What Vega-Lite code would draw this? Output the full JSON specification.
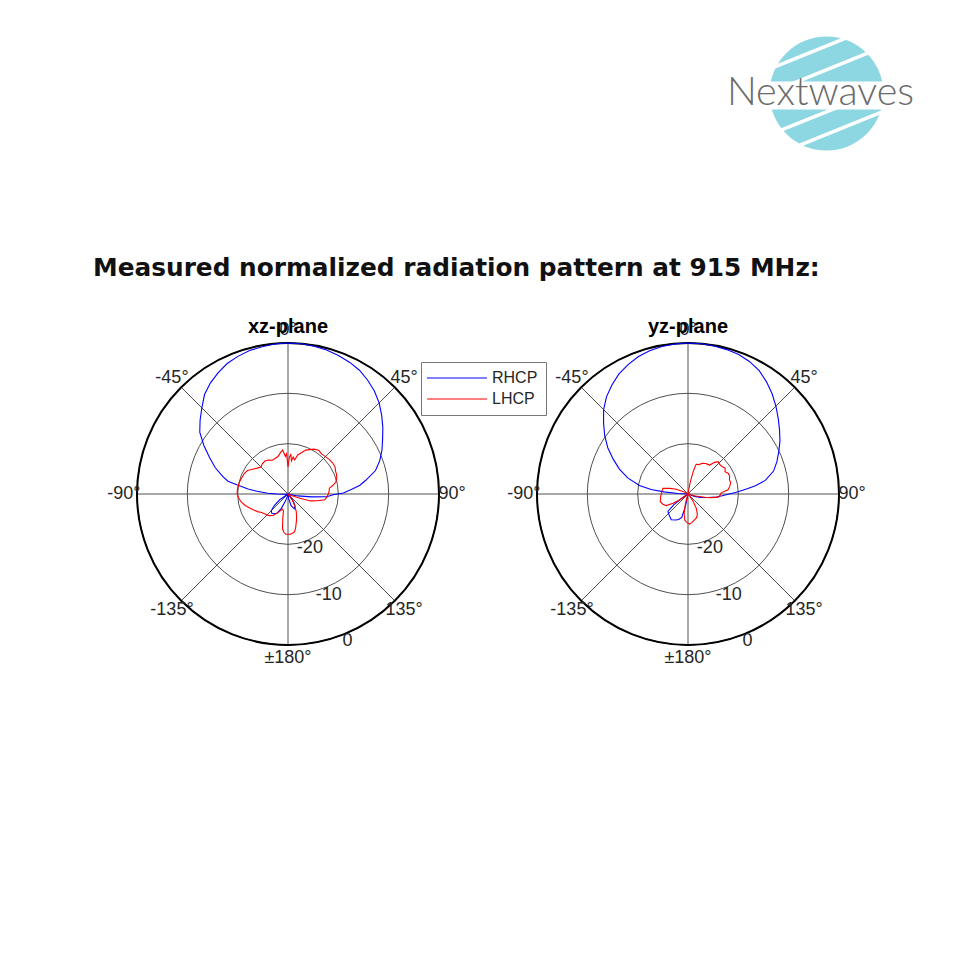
{
  "$schema": "https://vega.github.io/schema/vega-lite/v6.json",
  "background": "white",
  "padding": {"left": 88, "top": 30, "right": 0, "bottom": 0},
  "config": {"view": {"stroke": null}, "font": "Liberation Sans"},
  "datasets": {
    "logo": [{"cx": 0, "cy": 0}],
    "gaps": [
      {"x": -0.940, "y": 0.452, "x2": 0.361, "y2": 0.979},
      {"x": -1.055, "y": -0.011, "x2": 0.766, "y2": 0.726},
      {"x": -0.831, "y": -0.658, "x2": 1.055, "y2": 0.105},
      {"x": -0.498, "y": -0.921, "x2": 0.998, "y2": -0.315}
    ],
    "strip": [{"x": -1.2, "y": -0.035, "x2": 1.2, "y2": -0.035}],
    "brand": [{"brand": "Nextwaves", "x": -0.105, "y": -0.202}],
    "spokes": [{"angle": 0}, {"angle": 45}, {"angle": 90}, {"angle": 135}],
    "alabels": [
      {"angle": 0, "label": "0°"}, {"angle": 45, "label": "45°"}, {"angle": 90, "label": "90°"},
      {"angle": 135, "label": "135°"}, {"angle": 180, "label": "±180°"}, {"angle": -135, "label": "-135°"},
      {"angle": -90, "label": "-90°"}, {"angle": -45, "label": "-45°"}
    ],
    "rticks": [{"db": -20, "label": "-20"}, {"db": -10, "label": "-10"}, {"db": 0, "label": "0"}],
    "curves": [
      {"plane":"xz","pol":"RHCP","angle":-180,"db":-30},{"plane":"xz","pol":"RHCP","angle":-172,"db":-30},{"plane":"xz","pol":"RHCP","angle":-165,"db":-29.5},{"plane":"xz","pol":"RHCP","angle":-160,"db":-28.5},{"plane":"xz","pol":"RHCP","angle":-155,"db":-26.8},{"plane":"xz","pol":"RHCP","angle":-150,"db":-25.6},{"plane":"xz","pol":"RHCP","angle":-145,"db":-25.2},{"plane":"xz","pol":"RHCP","angle":-140,"db":-25.0},{"plane":"xz","pol":"RHCP","angle":-135,"db":-25.3},{"plane":"xz","pol":"RHCP","angle":-130,"db":-26.5},{"plane":"xz","pol":"RHCP","angle":-125,"db":-28},{"plane":"xz","pol":"RHCP","angle":-120,"db":-30},{"plane":"xz","pol":"RHCP","angle":-100,"db":-30},{"plane":"xz","pol":"RHCP","angle":-95,"db":-29.5},{"plane":"xz","pol":"RHCP","angle":-92,"db":-28.8},{"plane":"xz","pol":"RHCP","angle":-90,"db":-27.8},{"plane":"xz","pol":"RHCP","angle":-88,"db":-26},{"plane":"xz","pol":"RHCP","angle":-85,"db":-23.8},{"plane":"xz","pol":"RHCP","angle":-83,"db":-22},{"plane":"xz","pol":"RHCP","angle":-80,"db":-19.8},{"plane":"xz","pol":"RHCP","angle":-78,"db":-17.8},{"plane":"xz","pol":"RHCP","angle":-75,"db":-16.6},{"plane":"xz","pol":"RHCP","angle":-70,"db":-14.6},{"plane":"xz","pol":"RHCP","angle":-65,"db":-12.8},{"plane":"xz","pol":"RHCP","angle":-60,"db":-10.7},{"plane":"xz","pol":"RHCP","angle":-55,"db":-8.6},{"plane":"xz","pol":"RHCP","angle":-50,"db":-7.2},{"plane":"xz","pol":"RHCP","angle":-45,"db":-5.8},{"plane":"xz","pol":"RHCP","angle":-40,"db":-4.2},{"plane":"xz","pol":"RHCP","angle":-35,"db":-3.1},{"plane":"xz","pol":"RHCP","angle":-30,"db":-2.2},{"plane":"xz","pol":"RHCP","angle":-25,"db":-1.4},{"plane":"xz","pol":"RHCP","angle":-20,"db":-0.9},{"plane":"xz","pol":"RHCP","angle":-15,"db":-0.5},{"plane":"xz","pol":"RHCP","angle":-10,"db":-0.3},{"plane":"xz","pol":"RHCP","angle":-5,"db":-0.1},{"plane":"xz","pol":"RHCP","angle":0,"db":0},{"plane":"xz","pol":"RHCP","angle":5,"db":-0.05},{"plane":"xz","pol":"RHCP","angle":10,"db":-0.2},{"plane":"xz","pol":"RHCP","angle":15,"db":-0.4},{"plane":"xz","pol":"RHCP","angle":20,"db":-0.7},{"plane":"xz","pol":"RHCP","angle":25,"db":-1.1},{"plane":"xz","pol":"RHCP","angle":30,"db":-1.6},{"plane":"xz","pol":"RHCP","angle":35,"db":-2.4},{"plane":"xz","pol":"RHCP","angle":40,"db":-3.3},{"plane":"xz","pol":"RHCP","angle":45,"db":-4.4},{"plane":"xz","pol":"RHCP","angle":50,"db":-5.7},{"plane":"xz","pol":"RHCP","angle":55,"db":-7.0},{"plane":"xz","pol":"RHCP","angle":60,"db":-8.3},{"plane":"xz","pol":"RHCP","angle":65,"db":-9.4},{"plane":"xz","pol":"RHCP","angle":70,"db":-10.6},{"plane":"xz","pol":"RHCP","angle":75,"db":-12.0},{"plane":"xz","pol":"RHCP","angle":80,"db":-14.3},{"plane":"xz","pol":"RHCP","angle":83,"db":-15.6},{"plane":"xz","pol":"RHCP","angle":86,"db":-17.4},{"plane":"xz","pol":"RHCP","angle":89,"db":-19.0},{"plane":"xz","pol":"RHCP","angle":91,"db":-21.0},{"plane":"xz","pol":"RHCP","angle":94,"db":-22.3},{"plane":"xz","pol":"RHCP","angle":97,"db":-25.3},{"plane":"xz","pol":"RHCP","angle":101,"db":-28},{"plane":"xz","pol":"RHCP","angle":105,"db":-29.5},{"plane":"xz","pol":"RHCP","angle":110,"db":-30},{"plane":"xz","pol":"RHCP","angle":135,"db":-30},{"plane":"xz","pol":"RHCP","angle":140,"db":-29},{"plane":"xz","pol":"RHCP","angle":145,"db":-28},{"plane":"xz","pol":"RHCP","angle":150,"db":-27.2},{"plane":"xz","pol":"RHCP","angle":157,"db":-26.8},{"plane":"xz","pol":"RHCP","angle":165,"db":-27.6},{"plane":"xz","pol":"RHCP","angle":172,"db":-29},{"plane":"xz","pol":"RHCP","angle":180,"db":-30},
      {"plane":"xz","pol":"LHCP","angle":-180,"db":-22.0},{"plane":"xz","pol":"LHCP","angle":-177,"db":-22.0},{"plane":"xz","pol":"LHCP","angle":-174,"db":-22.3},{"plane":"xz","pol":"LHCP","angle":-171,"db":-23.0},{"plane":"xz","pol":"LHCP","angle":-168,"db":-25.0},{"plane":"xz","pol":"LHCP","angle":-165,"db":-26.5},{"plane":"xz","pol":"LHCP","angle":-160,"db":-26.8},{"plane":"xz","pol":"LHCP","angle":-155,"db":-26.3},{"plane":"xz","pol":"LHCP","angle":-150,"db":-25.6},{"plane":"xz","pol":"LHCP","angle":-145,"db":-24.8},{"plane":"xz","pol":"LHCP","angle":-140,"db":-24.4},{"plane":"xz","pol":"LHCP","angle":-135,"db":-24.1},{"plane":"xz","pol":"LHCP","angle":-130,"db":-23.9},{"plane":"xz","pol":"LHCP","angle":-125,"db":-23.6},{"plane":"xz","pol":"LHCP","angle":-120,"db":-23.0},{"plane":"xz","pol":"LHCP","angle":-115,"db":-22.5},{"plane":"xz","pol":"LHCP","angle":-110,"db":-21.9},{"plane":"xz","pol":"LHCP","angle":-105,"db":-21.2},{"plane":"xz","pol":"LHCP","angle":-100,"db":-20.6},{"plane":"xz","pol":"LHCP","angle":-95,"db":-20.2},{"plane":"xz","pol":"LHCP","angle":-90,"db":-19.9},{"plane":"xz","pol":"LHCP","angle":-85,"db":-19.9},{"plane":"xz","pol":"LHCP","angle":-80,"db":-20.0},{"plane":"xz","pol":"LHCP","angle":-75,"db":-20.1},{"plane":"xz","pol":"LHCP","angle":-70,"db":-20.3},{"plane":"xz","pol":"LHCP","angle":-65,"db":-20.4},{"plane":"xz","pol":"LHCP","angle":-60,"db":-20.7},{"plane":"xz","pol":"LHCP","angle":-55,"db":-21.4},{"plane":"xz","pol":"LHCP","angle":-50,"db":-22.0},{"plane":"xz","pol":"LHCP","angle":-45,"db":-22.4},{"plane":"xz","pol":"LHCP","angle":-40,"db":-22.1},{"plane":"xz","pol":"LHCP","angle":-35,"db":-22.0},{"plane":"xz","pol":"LHCP","angle":-30,"db":-22.2},{"plane":"xz","pol":"LHCP","angle":-25,"db":-22.6},{"plane":"xz","pol":"LHCP","angle":-20,"db":-22.5},{"plane":"xz","pol":"LHCP","angle":-15,"db":-22.3},{"plane":"xz","pol":"LHCP","angle":-10,"db":-21.6},{"plane":"xz","pol":"LHCP","angle":-7,"db":-21.2},{"plane":"xz","pol":"LHCP","angle":-4,"db":-22.5},{"plane":"xz","pol":"LHCP","angle":-2,"db":-22.0},{"plane":"xz","pol":"LHCP","angle":0,"db":-24.6},{"plane":"xz","pol":"LHCP","angle":2,"db":-22.8},{"plane":"xz","pol":"LHCP","angle":4,"db":-22.0},{"plane":"xz","pol":"LHCP","angle":6,"db":-23.4},{"plane":"xz","pol":"LHCP","angle":8,"db":-22.6},{"plane":"xz","pol":"LHCP","angle":11,"db":-23.1},{"plane":"xz","pol":"LHCP","angle":14,"db":-22.0},{"plane":"xz","pol":"LHCP","angle":18,"db":-21.4},{"plane":"xz","pol":"LHCP","angle":22,"db":-20.6},{"plane":"xz","pol":"LHCP","angle":26,"db":-20.2},{"plane":"xz","pol":"LHCP","angle":30,"db":-19.7},{"plane":"xz","pol":"LHCP","angle":35,"db":-19.4},{"plane":"xz","pol":"LHCP","angle":40,"db":-19.6},{"plane":"xz","pol":"LHCP","angle":45,"db":-19.5},{"plane":"xz","pol":"LHCP","angle":50,"db":-19.3},{"plane":"xz","pol":"LHCP","angle":55,"db":-19.2},{"plane":"xz","pol":"LHCP","angle":60,"db":-19.2},{"plane":"xz","pol":"LHCP","angle":64,"db":-19.5},{"plane":"xz","pol":"LHCP","angle":68,"db":-19.6},{"plane":"xz","pol":"LHCP","angle":72,"db":-19.8},{"plane":"xz","pol":"LHCP","angle":76,"db":-20.2},{"plane":"xz","pol":"LHCP","angle":79,"db":-20.9},{"plane":"xz","pol":"LHCP","angle":82,"db":-21.7},{"plane":"xz","pol":"LHCP","angle":86,"db":-21.8},{"plane":"xz","pol":"LHCP","angle":90,"db":-22.0},{"plane":"xz","pol":"LHCP","angle":95,"db":-22.3},{"plane":"xz","pol":"LHCP","angle":99,"db":-22.6},{"plane":"xz","pol":"LHCP","angle":103,"db":-24.0},{"plane":"xz","pol":"LHCP","angle":107,"db":-25.3},{"plane":"xz","pol":"LHCP","angle":110,"db":-27.5},{"plane":"xz","pol":"LHCP","angle":115,"db":-29.3},{"plane":"xz","pol":"LHCP","angle":120,"db":-30},{"plane":"xz","pol":"LHCP","angle":135,"db":-30},{"plane":"xz","pol":"LHCP","angle":145,"db":-28.5},{"plane":"xz","pol":"LHCP","angle":150,"db":-27.3},{"plane":"xz","pol":"LHCP","angle":155,"db":-26.1},{"plane":"xz","pol":"LHCP","angle":160,"db":-25.0},{"plane":"xz","pol":"LHCP","angle":163,"db":-24.3},{"plane":"xz","pol":"LHCP","angle":167,"db":-23.2},{"plane":"xz","pol":"LHCP","angle":170,"db":-22.4},{"plane":"xz","pol":"LHCP","angle":174,"db":-22.1},{"plane":"xz","pol":"LHCP","angle":177,"db":-22.0},{"plane":"xz","pol":"LHCP","angle":180,"db":-22.0},
      {"plane":"yz","pol":"RHCP","angle":-180,"db":-30},{"plane":"yz","pol":"RHCP","angle":-172,"db":-30},{"plane":"yz","pol":"RHCP","angle":-168,"db":-27.4},{"plane":"yz","pol":"RHCP","angle":-165,"db":-25.2},{"plane":"yz","pol":"RHCP","angle":-160,"db":-24.6},{"plane":"yz","pol":"RHCP","angle":-155,"db":-24.3},{"plane":"yz","pol":"RHCP","angle":-147,"db":-23.9},{"plane":"yz","pol":"RHCP","angle":-140,"db":-24.3},{"plane":"yz","pol":"RHCP","angle":-131,"db":-24.7},{"plane":"yz","pol":"RHCP","angle":-127,"db":-26.5},{"plane":"yz","pol":"RHCP","angle":-124,"db":-28.5},{"plane":"yz","pol":"RHCP","angle":-120,"db":-30},{"plane":"yz","pol":"RHCP","angle":-90,"db":-30},{"plane":"yz","pol":"RHCP","angle":-87,"db":-28},{"plane":"yz","pol":"RHCP","angle":-85,"db":-25.2},{"plane":"yz","pol":"RHCP","angle":-83,"db":-22.6},{"plane":"yz","pol":"RHCP","angle":-80,"db":-20.2},{"plane":"yz","pol":"RHCP","angle":-75,"db":-17.6},{"plane":"yz","pol":"RHCP","angle":-70,"db":-15.5},{"plane":"yz","pol":"RHCP","angle":-65,"db":-13.6},{"plane":"yz","pol":"RHCP","angle":-60,"db":-11.6},{"plane":"yz","pol":"RHCP","angle":-55,"db":-9.8},{"plane":"yz","pol":"RHCP","angle":-50,"db":-8.1},{"plane":"yz","pol":"RHCP","angle":-45,"db":-6.3},{"plane":"yz","pol":"RHCP","angle":-40,"db":-4.8},{"plane":"yz","pol":"RHCP","angle":-35,"db":-3.6},{"plane":"yz","pol":"RHCP","angle":-30,"db":-2.5},{"plane":"yz","pol":"RHCP","angle":-25,"db":-1.7},{"plane":"yz","pol":"RHCP","angle":-20,"db":-1.0},{"plane":"yz","pol":"RHCP","angle":-15,"db":-0.55},{"plane":"yz","pol":"RHCP","angle":-10,"db":-0.25},{"plane":"yz","pol":"RHCP","angle":-5,"db":-0.07},{"plane":"yz","pol":"RHCP","angle":0,"db":0},{"plane":"yz","pol":"RHCP","angle":5,"db":-0.05},{"plane":"yz","pol":"RHCP","angle":10,"db":-0.15},{"plane":"yz","pol":"RHCP","angle":15,"db":-0.3},{"plane":"yz","pol":"RHCP","angle":20,"db":-0.5},{"plane":"yz","pol":"RHCP","angle":25,"db":-1.0},{"plane":"yz","pol":"RHCP","angle":30,"db":-1.7},{"plane":"yz","pol":"RHCP","angle":35,"db":-2.8},{"plane":"yz","pol":"RHCP","angle":40,"db":-4.0},{"plane":"yz","pol":"RHCP","angle":45,"db":-5.3},{"plane":"yz","pol":"RHCP","angle":50,"db":-6.6},{"plane":"yz","pol":"RHCP","angle":55,"db":-7.8},{"plane":"yz","pol":"RHCP","angle":60,"db":-8.9},{"plane":"yz","pol":"RHCP","angle":65,"db":-10.1},{"plane":"yz","pol":"RHCP","angle":70,"db":-11.2},{"plane":"yz","pol":"RHCP","angle":75,"db":-12.4},{"plane":"yz","pol":"RHCP","angle":80,"db":-14.4},{"plane":"yz","pol":"RHCP","angle":83,"db":-16.5},{"plane":"yz","pol":"RHCP","angle":85,"db":-18.2},{"plane":"yz","pol":"RHCP","angle":88,"db":-20.4},{"plane":"yz","pol":"RHCP","angle":90,"db":-21.8},{"plane":"yz","pol":"RHCP","angle":93,"db":-23.2},{"plane":"yz","pol":"RHCP","angle":96,"db":-24.3},{"plane":"yz","pol":"RHCP","angle":100,"db":-26.0},{"plane":"yz","pol":"RHCP","angle":105,"db":-27.4},{"plane":"yz","pol":"RHCP","angle":110,"db":-28.6},{"plane":"yz","pol":"RHCP","angle":115,"db":-30},{"plane":"yz","pol":"RHCP","angle":180,"db":-30},
      {"plane":"yz","pol":"LHCP","angle":-180,"db":-24.2},{"plane":"yz","pol":"LHCP","angle":-176,"db":-24.5},{"plane":"yz","pol":"LHCP","angle":-173,"db":-24.8},{"plane":"yz","pol":"LHCP","angle":-169,"db":-26.0},{"plane":"yz","pol":"LHCP","angle":-165,"db":-28.0},{"plane":"yz","pol":"LHCP","angle":-160,"db":-30},{"plane":"yz","pol":"LHCP","angle":-130,"db":-30},{"plane":"yz","pol":"LHCP","angle":-125,"db":-28},{"plane":"yz","pol":"LHCP","angle":-122,"db":-26.5},{"plane":"yz","pol":"LHCP","angle":-118,"db":-25.1},{"plane":"yz","pol":"LHCP","angle":-112,"db":-24.6},{"plane":"yz","pol":"LHCP","angle":-105,"db":-24.3},{"plane":"yz","pol":"LHCP","angle":-97,"db":-24.5},{"plane":"yz","pol":"LHCP","angle":-89,"db":-24.7},{"plane":"yz","pol":"LHCP","angle":-83,"db":-24.8},{"plane":"yz","pol":"LHCP","angle":-77,"db":-24.9},{"plane":"yz","pol":"LHCP","angle":-73,"db":-26.2},{"plane":"yz","pol":"LHCP","angle":-68,"db":-27.5},{"plane":"yz","pol":"LHCP","angle":-62,"db":-29},{"plane":"yz","pol":"LHCP","angle":-55,"db":-30},{"plane":"yz","pol":"LHCP","angle":0,"db":-30},{"plane":"yz","pol":"LHCP","angle":8,"db":-29.5},{"plane":"yz","pol":"LHCP","angle":11,"db":-27.5},{"plane":"yz","pol":"LHCP","angle":13,"db":-25.5},{"plane":"yz","pol":"LHCP","angle":15,"db":-24.0},{"plane":"yz","pol":"LHCP","angle":17,"db":-23.8},{"plane":"yz","pol":"LHCP","angle":20,"db":-23.8},{"plane":"yz","pol":"LHCP","angle":23,"db":-23.5},{"plane":"yz","pol":"LHCP","angle":26,"db":-23.2},{"plane":"yz","pol":"LHCP","angle":30,"db":-23.0},{"plane":"yz","pol":"LHCP","angle":34,"db":-22.9},{"plane":"yz","pol":"LHCP","angle":37,"db":-22.8},{"plane":"yz","pol":"LHCP","angle":40,"db":-21.8},{"plane":"yz","pol":"LHCP","angle":43,"db":-21.2},{"plane":"yz","pol":"LHCP","angle":47,"db":-21.4},{"plane":"yz","pol":"LHCP","angle":51,"db":-21.3},{"plane":"yz","pol":"LHCP","angle":55,"db":-21.0},{"plane":"yz","pol":"LHCP","angle":59,"db":-21.4},{"plane":"yz","pol":"LHCP","angle":63,"db":-21.0},{"plane":"yz","pol":"LHCP","angle":67,"db":-21.0},{"plane":"yz","pol":"LHCP","angle":71,"db":-21.3},{"plane":"yz","pol":"LHCP","angle":75,"db":-21.2},{"plane":"yz","pol":"LHCP","angle":80,"db":-21.6},{"plane":"yz","pol":"LHCP","angle":84,"db":-22.0},{"plane":"yz","pol":"LHCP","angle":88,"db":-23.4},{"plane":"yz","pol":"LHCP","angle":92,"db":-23.6},{"plane":"yz","pol":"LHCP","angle":96,"db":-24.0},{"plane":"yz","pol":"LHCP","angle":99,"db":-25.4},{"plane":"yz","pol":"LHCP","angle":101,"db":-26.6},{"plane":"yz","pol":"LHCP","angle":105,"db":-28.5},{"plane":"yz","pol":"LHCP","angle":110,"db":-30},{"plane":"yz","pol":"LHCP","angle":140,"db":-29.5},{"plane":"yz","pol":"LHCP","angle":145,"db":-28.2},{"plane":"yz","pol":"LHCP","angle":150,"db":-26.7},{"plane":"yz","pol":"LHCP","angle":155,"db":-25.6},{"plane":"yz","pol":"LHCP","angle":160,"db":-25.0},{"plane":"yz","pol":"LHCP","angle":166,"db":-24.7},{"plane":"yz","pol":"LHCP","angle":172,"db":-24.3},{"plane":"yz","pol":"LHCP","angle":177,"db":-24.0},{"plane":"yz","pol":"LHCP","angle":180,"db":-24.2}
    ]
  },
  "spacing": 0,
  "bounds": "flush",
  "vconcat": [
    {
      "width": 800,
      "height": 264,
      "title": {"text": "Measured normalized radiation pattern at 915 MHz:", "orient": "bottom", "anchor": "start", "frame": "group", "baseline": "alphabetic", "offset": 0, "dy": -18, "dx": 5, "font": "DejaVu Sans", "fontSize": 24.8, "fontWeight": "bold", "color": "#111111"},
      "layer": [
        {
          "data": {"name": "logo"},
          "mark": {"type": "arc", "radius": 57, "theta": 0, "theta2": 6.2832, "color": "#8dd7e2", "stroke": null},
          "encoding": {
            "x": {"field": "cx", "type": "quantitative", "scale": {"domain": [-12.956, 1.079], "nice": false, "zero": false}, "axis": null},
            "y": {"field": "cy", "type": "quantitative", "scale": {"domain": [-3.518, 1.114], "nice": false, "zero": false}, "axis": null}
          }
        },
        {
          "data": {"name": "gaps"},
          "mark": {"type": "rule", "strokeWidth": 3.5, "color": "#ffffff", "strokeCap": "butt"},
          "encoding": {
            "x": {"field": "x", "type": "quantitative", "scale": {"domain": [-12.956, 1.079], "nice": false, "zero": false}, "axis": null},
            "y": {"field": "y", "type": "quantitative", "scale": {"domain": [-3.518, 1.114], "nice": false, "zero": false}, "axis": null},
            "x2": {"field": "x2"},
            "y2": {"field": "y2"}
          }
        },
        {
          "data": {"name": "strip"},
          "mark": {"type": "rule", "strokeWidth": 28, "color": "#ffffff", "strokeCap": "butt"},
          "encoding": {
            "x": {"field": "x", "type": "quantitative", "scale": {"domain": [-12.956, 1.079], "nice": false, "zero": false}, "axis": null},
            "y": {"field": "y", "type": "quantitative", "scale": {"domain": [-3.518, 1.114], "nice": false, "zero": false}, "axis": null},
            "x2": {"field": "x2"},
            "y2": {"field": "y2"}
          }
        },
        {
          "data": {"name": "brand"},
          "mark": {"type": "text", "font": "Lato", "fontWeight": 300, "fontSize": 39.5, "color": "#6b6b6b", "align": "center", "baseline": "alphabetic"},
          "encoding": {
            "x": {"field": "x", "type": "quantitative", "scale": {"domain": [-12.956, 1.079], "nice": false, "zero": false}, "axis": null},
            "y": {"field": "y", "type": "quantitative", "scale": {"domain": [-3.518, 1.114], "nice": false, "zero": false}, "axis": null},
            "text": {"field": "brand"}
          }
        }
      ]
    },
    {
      "spacing": 0,
      "bounds": "flush",
      "hconcat": [
        {
          "width": 400,
          "height": 400,
          "title": {"text": "xz-plane", "frame": "group", "anchor": "middle", "baseline": "alphabetic", "offset": 0, "dy": 59, "font": "Liberation Sans", "fontSize": 20, "fontWeight": "bold", "color": "#000000"},
          "layer": [
            {
              "data": {"name": "spokes"},
              "transform": [
                {"calculate": "30*sin(datum.angle*PI/180)", "as": "sx"},
                {"calculate": "30*cos(datum.angle*PI/180)", "as": "sy"},
                {"calculate": "-datum.sx", "as": "ex"},
                {"calculate": "-datum.sy", "as": "ey"}
              ],
              "mark": {"type": "rule", "color": "#505050", "strokeWidth": 1},
              "encoding": {
                "x": {"field": "sx", "type": "quantitative", "scale": {"domain": [-39.735, 39.735], "nice": false, "zero": false}, "axis": null},
                "y": {"field": "sy", "type": "quantitative", "scale": {"domain": [-39.735, 39.735], "nice": false, "zero": false}, "axis": null},
                "x2": {"field": "ex"},
                "y2": {"field": "ey"}
              }
            },
            {
              "data": {"name": "rticks"},
              "transform": [{"filter": "datum.db < 0"}],
              "mark": {"type": "arc", "filled": false, "color": "#505050", "strokeWidth": 1, "theta": 0, "theta2": 6.2832},
              "encoding": {
                "radius": {"field": "db", "type": "quantitative", "stack": null, "scale": {"type": "linear", "domain": [-30, 0], "range": [0, 151], "zero": false, "nice": false}, "legend": null}
              }
            },
            {
              "data": {"name": "rticks"},
              "transform": [{"filter": "datum.db == 0"}],
              "mark": {"type": "arc", "filled": false, "color": "#000000", "strokeWidth": 2, "theta": 0, "theta2": 6.2832},
              "encoding": {
                "radius": {"field": "db", "type": "quantitative", "stack": null, "scale": {"type": "linear", "domain": [-30, 0], "range": [0, 151], "zero": false, "nice": false}, "legend": null}
              }
            },
            {
              "data": {"name": "curves"},
              "transform": [
                {"filter": "datum.plane === 'xz'"},
                {"calculate": "max(datum.db + 30, 0)", "as": "r"},
                {"calculate": "datum.r*sin(datum.angle*PI/180)", "as": "cx"},
                {"calculate": "datum.r*cos(datum.angle*PI/180)", "as": "cy"}
              ],
              "mark": {"type": "line", "strokeWidth": 1.1},
              "encoding": {
                "x": {"field": "cx", "type": "quantitative", "scale": {"domain": [-39.735, 39.735], "nice": false, "zero": false}, "axis": null},
                "y": {"field": "cy", "type": "quantitative", "scale": {"domain": [-39.735, 39.735], "nice": false, "zero": false}, "axis": null},
                "order": {"field": "angle", "type": "quantitative"},
                "color": {"field": "pol", "type": "nominal", "scale": {"domain": ["RHCP", "LHCP"], "range": ["#0000ff", "#ff0000"]},
                  "legend": {"title": null, "orient": "none", "legendX": 333, "legendY": 332, "symbolType": "M-2,0H10", "symbolSize": 100, "symbolStrokeWidth": 1, "labelOffset": 47, "padding": 8, "rowPadding": 5, "labelFontSize": 16, "labelFont": "Liberation Sans", "labelColor": "#262626", "strokeColor": "#777777", "fillColor": "#ffffff"}}
              }
            },
            {
              "data": {"name": "alabels"},
              "transform": [
                {"calculate": "32.6*sin(datum.angle*PI/180)", "as": "lx"},
                {"calculate": "32.6*cos(datum.angle*PI/180)", "as": "ly"}
              ],
              "mark": {"type": "text", "font": "Liberation Sans", "fontSize": 18, "color": "#262626", "align": "center", "baseline": "middle"},
              "encoding": {
                "x": {"field": "lx", "type": "quantitative", "scale": {"domain": [-39.735, 39.735], "nice": false, "zero": false}, "axis": null},
                "y": {"field": "ly", "type": "quantitative", "scale": {"domain": [-39.735, 39.735], "nice": false, "zero": false}, "axis": null},
                "text": {"field": "label"}
              }
            },
            {
              "data": {"name": "rticks"},
              "transform": [
                {"calculate": "(datum.db+31.6)*sin(158*PI/180)", "as": "tx"},
                {"calculate": "(datum.db+31.6)*cos(158*PI/180)", "as": "ty"}
              ],
              "mark": {"type": "text", "font": "Liberation Sans", "fontSize": 18, "color": "#262626", "align": "center", "baseline": "middle"},
              "encoding": {
                "x": {"field": "tx", "type": "quantitative", "scale": {"domain": [-39.735, 39.735], "nice": false, "zero": false}, "axis": null},
                "y": {"field": "ty", "type": "quantitative", "scale": {"domain": [-39.735, 39.735], "nice": false, "zero": false}, "axis": null},
                "text": {"field": "label"}
              }
            }
          ]
        },
        {
          "width": 400,
          "height": 400,
          "title": {"text": "yz-plane", "frame": "group", "anchor": "middle", "baseline": "alphabetic", "offset": 0, "dy": 59, "font": "Liberation Sans", "fontSize": 20, "fontWeight": "bold", "color": "#000000"},
          "layer": [
            {
              "data": {"name": "spokes"},
              "transform": [
                {"calculate": "30*sin(datum.angle*PI/180)", "as": "sx"},
                {"calculate": "30*cos(datum.angle*PI/180)", "as": "sy"},
                {"calculate": "-datum.sx", "as": "ex"},
                {"calculate": "-datum.sy", "as": "ey"}
              ],
              "mark": {"type": "rule", "color": "#505050", "strokeWidth": 1},
              "encoding": {
                "x": {"field": "sx", "type": "quantitative", "scale": {"domain": [-39.735, 39.735], "nice": false, "zero": false}, "axis": null},
                "y": {"field": "sy", "type": "quantitative", "scale": {"domain": [-39.735, 39.735], "nice": false, "zero": false}, "axis": null},
                "x2": {"field": "ex"},
                "y2": {"field": "ey"}
              }
            },
            {
              "data": {"name": "rticks"},
              "transform": [{"filter": "datum.db < 0"}],
              "mark": {"type": "arc", "filled": false, "color": "#505050", "strokeWidth": 1, "theta": 0, "theta2": 6.2832},
              "encoding": {
                "radius": {"field": "db", "type": "quantitative", "stack": null, "scale": {"type": "linear", "domain": [-30, 0], "range": [0, 151], "zero": false, "nice": false}, "legend": null}
              }
            },
            {
              "data": {"name": "rticks"},
              "transform": [{"filter": "datum.db == 0"}],
              "mark": {"type": "arc", "filled": false, "color": "#000000", "strokeWidth": 2, "theta": 0, "theta2": 6.2832},
              "encoding": {
                "radius": {"field": "db", "type": "quantitative", "stack": null, "scale": {"type": "linear", "domain": [-30, 0], "range": [0, 151], "zero": false, "nice": false}, "legend": null}
              }
            },
            {
              "data": {"name": "curves"},
              "transform": [
                {"filter": "datum.plane === 'yz'"},
                {"calculate": "max(datum.db + 30, 0)", "as": "r"},
                {"calculate": "datum.r*sin(datum.angle*PI/180)", "as": "cx"},
                {"calculate": "datum.r*cos(datum.angle*PI/180)", "as": "cy"}
              ],
              "mark": {"type": "line", "strokeWidth": 1.1},
              "encoding": {
                "x": {"field": "cx", "type": "quantitative", "scale": {"domain": [-39.735, 39.735], "nice": false, "zero": false}, "axis": null},
                "y": {"field": "cy", "type": "quantitative", "scale": {"domain": [-39.735, 39.735], "nice": false, "zero": false}, "axis": null},
                "order": {"field": "angle", "type": "quantitative"},
                "color": {"field": "pol", "type": "nominal", "scale": {"domain": ["RHCP", "LHCP"], "range": ["#0000ff", "#ff0000"]},
                  "legend": {"title": null, "orient": "none", "legendX": 333, "legendY": 332, "symbolType": "M-2,0H10", "symbolSize": 100, "symbolStrokeWidth": 1, "labelOffset": 47, "padding": 8, "rowPadding": 5, "labelFontSize": 16, "labelFont": "Liberation Sans", "labelColor": "#262626", "strokeColor": "#777777", "fillColor": "#ffffff"}}
              }
            },
            {
              "data": {"name": "alabels"},
              "transform": [
                {"calculate": "32.6*sin(datum.angle*PI/180)", "as": "lx"},
                {"calculate": "32.6*cos(datum.angle*PI/180)", "as": "ly"}
              ],
              "mark": {"type": "text", "font": "Liberation Sans", "fontSize": 18, "color": "#262626", "align": "center", "baseline": "middle"},
              "encoding": {
                "x": {"field": "lx", "type": "quantitative", "scale": {"domain": [-39.735, 39.735], "nice": false, "zero": false}, "axis": null},
                "y": {"field": "ly", "type": "quantitative", "scale": {"domain": [-39.735, 39.735], "nice": false, "zero": false}, "axis": null},
                "text": {"field": "label"}
              }
            },
            {
              "data": {"name": "rticks"},
              "transform": [
                {"calculate": "(datum.db+31.6)*sin(158*PI/180)", "as": "tx"},
                {"calculate": "(datum.db+31.6)*cos(158*PI/180)", "as": "ty"}
              ],
              "mark": {"type": "text", "font": "Liberation Sans", "fontSize": 18, "color": "#262626", "align": "center", "baseline": "middle"},
              "encoding": {
                "x": {"field": "tx", "type": "quantitative", "scale": {"domain": [-39.735, 39.735], "nice": false, "zero": false}, "axis": null},
                "y": {"field": "ty", "type": "quantitative", "scale": {"domain": [-39.735, 39.735], "nice": false, "zero": false}, "axis": null},
                "text": {"field": "label"}
              }
            }
          ]
        }
      ]
    }
  ]
}
